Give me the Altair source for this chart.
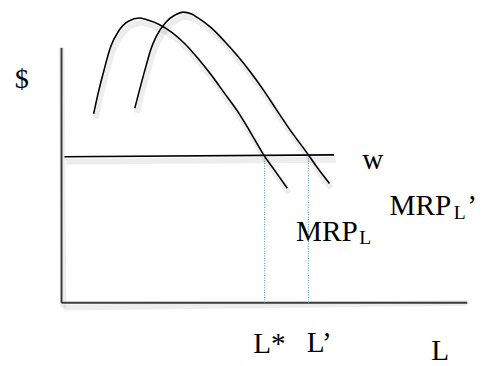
import altair as alt
import pandas as pd

# Curve MRP_L (labour units, dollars)
mrp1_L = [33, 37, 43.7, 50.3, 58.7, 68.7, 80.3, 87, 100.3, 113.7, 127, 140.3, 153.7, 167, 180.3, 193.7, 207.7, 220.3, 232]
mrp1_V = [194.3, 212.7, 239.3, 262.7, 279.3, 289.3, 292.7, 291, 286, 277.7, 266, 251, 234.3, 216, 197.7, 176, 152, 134.3, 117.7]
# Curve MRP_L'
mrp2_L = [75.3, 80.3, 87, 92, 97, 107, 117, 125, 133.7, 140.3, 153.7, 167, 180.3, 193.7, 207, 220.3, 233.7, 253.7, 263.7, 275.3]
mrp2_V = [200, 219.3, 244, 261, 273, 288, 296, 298.7, 296.7, 292.7, 282.7, 269.3, 254.3, 237.7, 219.3, 199.3, 179.3, 152, 137.7, 122.7]
# wage line
w_L = [3, 280]
w_V = [150, 152]
# equilibrium quantities L*, L'
eq_L = [208.7, 253.7]
eq_V = [151, 152]
# axis extents
axis_x_max = 417
axis_y_max = 262

# annotations
lab_text = ["$", "w", "MRP", "L", "\u2019", "MRP", "L", "L*", "L\u2019", "L"]
lab_x = [-48, 309, 337, 403, 417, 241, 306, 197, 252, 380]
lab_y = [221, 138, 90, 86, 90, 64, 60, -52, -51, -59]
lab_size = [29, 30, 30, 20, 30, 30, 20, 30, 30, 30]

xs = alt.Scale(domain=[0, 417], nice=False, zero=False)
ys = alt.Scale(domain=[0, 298], nice=False, zero=False)

curves = pd.DataFrame(
    [{"L": l, "V": v, "c": "MRP_L", "i": i} for i, (l, v) in enumerate(zip(mrp1_L, mrp1_V))]
    + [{"L": l, "V": v, "c": "MRP_L'", "i": i} for i, (l, v) in enumerate(zip(mrp2_L, mrp2_V))]
)
wage = pd.DataFrame({"L": w_L, "V": w_V, "i": [0, 1]})
eq = pd.DataFrame({"L": eq_L, "V": eq_V, "z": [0, 0]})
axes_df = pd.DataFrame({"x": [0, 0], "x2": [0, axis_x_max], "y": [0, 0], "y2": [axis_y_max, 0]})
labels = pd.DataFrame({"t": lab_text, "x": lab_x, "y": lab_y, "s": lab_size})

X = lambda f: alt.X(f, scale=xs, axis=None)
Y = lambda f: alt.Y(f, scale=ys, axis=None)

shadow_kw = dict(stroke="#000000", strokeOpacity=0.07, strokeWidth=6, xOffset=2, yOffset=5)

axes_shadow = alt.Chart(axes_df).mark_rule(**shadow_kw).encode(
    x=X("x:Q"), x2="x2:Q", y=Y("y:Q"), y2="y2:Q")
axes = alt.Chart(axes_df).mark_rule(stroke="#3a3a3a", strokeWidth=2).encode(
    x=X("x:Q"), x2="x2:Q", y=Y("y:Q"), y2="y2:Q")

wage_shadow = alt.Chart(wage).mark_line(**shadow_kw).encode(x=X("L:Q"), y=Y("V:Q"), order="i:Q")
wage_line = alt.Chart(wage).mark_line(stroke="#000000", strokeWidth=1.6).encode(
    x=X("L:Q"), y=Y("V:Q"), order="i:Q")

eq_lines = alt.Chart(eq).mark_rule(stroke="#5b9bd5", strokeWidth=1.2, strokeDash=[1, 1.5]).encode(
    x=X("L:Q"), y=Y("z:Q"), y2="V:Q")

curve_shadow = alt.Chart(curves).mark_line(interpolate="monotone", **shadow_kw).encode(
    x=X("L:Q"), y=Y("V:Q"), detail="c:N", order="i:Q")
curve_lines = alt.Chart(curves).mark_line(interpolate="monotone", stroke="#000000", strokeWidth=1.6).encode(
    x=X("L:Q"), y=Y("V:Q"), detail="c:N", order="i:Q")

texts = alt.Chart(labels).mark_text(
    align="left", baseline="alphabetic", font="Liberation Serif", color="#000000"
).encode(
    x=X("x:Q"), y=Y("y:Q"), text="t:N", size=alt.Size("s:Q", scale=None, legend=None)
)

chart = alt.layer(
    axes_shadow, wage_shadow, curve_shadow, axes, eq_lines, wage_line, curve_lines, texts
).properties(
    width=417, height=298,
    padding={"left": 55, "top": 0, "right": 12, "bottom": 60},
    autosize="none",
    background="white",
).configure_view(stroke=None)

chart.save("out.html", embed_options={"renderer": "svg", "actions": False})
